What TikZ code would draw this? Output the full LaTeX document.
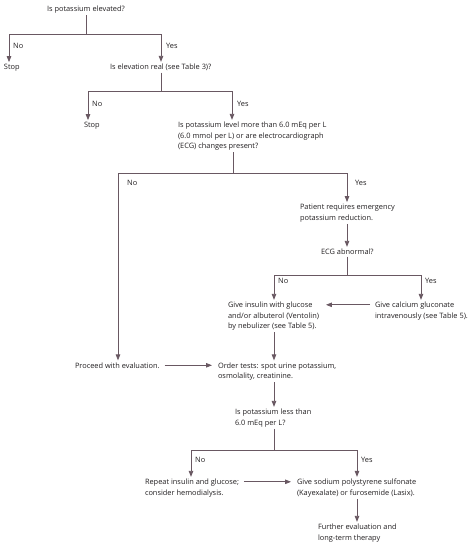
\documentclass[tikz,border=0pt]{standalone}
\usepackage{fontspec}
\setmainfont{Open Sans}
\usetikzlibrary{arrows.meta,calc}
\definecolor{linec}{RGB}{105,88,98}
\definecolor{txtc}{RGB}{35,32,34}
\begin{document}
\begin{tikzpicture}[x=1pt,y=-1pt,
  txt/.style={font=\fontsize{7.4}{10.5}\selectfont, text=txtc, inner sep=0pt, outer sep=2pt, align=left, anchor=base west},
  lbl/.style={font=\fontsize{7.4}{10.5}\selectfont, text=txtc, inner sep=0pt, anchor=base west},
  ln/.style={draw=linec, line width=0.8pt},
  arr/.style={ln, -{Triangle[length=6pt,width=4.5pt]}},
  biarr/.style={ln, {Triangle[length=6pt,width=4.5pt]}-{Triangle[length=6pt,width=4.5pt]}}]
\fill[white] (0,0) rectangle (474,546);
\useasboundingbox (0,0) rectangle (474,546);

% text nodes (base = baseline of the last line)
\node[txt] (q1) at (45,11.5) {Is potassium elevated?};
\node[txt] (stop1) at (2,69.5) {Stop};
\node[txt] (q2) at (108,69.5) {Is elevation real (see Table 3)?};
\node[txt] (stop2) at (82,127.5) {Stop};
\node[txt] (q3) at (176,148.5) {Is potassium level more than 6.0 mEq per L\\(6.0 mmol per L) or are electrocardiograph\\(ECG) changes present?};
\node[txt] (patient) at (298,220) {Patient requires emergency\\potassium reduction.};
\node[txt] (ecg) at (319,254.5) {ECG abnormal?};
\node[txt] (insulin) at (226,328.5) {Give insulin with glucose\\and/or albuterol (Ventolin)\\by nebulizer (see Table 5).};
\node[txt] (calcium) at (373,318) {Give calcium gluconate\\intravenously (see Table 5).};
\node[txt] (proceed) at (73,368) {Proceed with evaluation.};
\node[txt] (order) at (216,378.5) {Order tests: spot urine potassium,\\osmolality, creatinine.};
\node[txt] (q4) at (233,425) {Is potassium less than\\6.0 mEq per L?};
\node[txt] (repeat) at (143,495) {Repeat insulin and glucose;\\consider hemodialysis.};
\node[txt] (sodium) at (295,495) {Give sodium polystyrene sulfonate\\(Kayexalate) or furosemide (Lasix).};
\node[txt] (further) at (316,540) {Further evaluation and\\long-term therapy};

% branch labels
\node[lbl] (n1) at (13,48.5) {No};
\node[lbl] (y1) at (166,48.5) {Yes};
\node[lbl] (n2) at (92,106.5) {No};
\node[lbl] (y2) at (237,106.5) {Yes};
\node[lbl] (n3) at (127,185.5) {No};
\node[lbl] (y3) at (355,185.5) {Yes};
\node[lbl] (n4) at (278,283.5) {No};
\node[lbl] (y4) at (425,283.5) {Yes};
\node[lbl] (n5) at (195,462.5) {No};
\node[lbl] (y5) at (361,462.5) {Yes};

% junction coordinates
\coordinate (j1) at (86,34);  \coordinate (a1) at (9,34);   \coordinate (b1) at (161,34);
\coordinate (j2) at (161,91); \coordinate (a2) at (88,91);  \coordinate (b2) at (232,91);
\coordinate (j3) at (233,173);\coordinate (a3) at (118,173);\coordinate (b3) at (347,173);
\coordinate (j4) at (347,275);\coordinate (a4) at (274,275);\coordinate (b4) at (421,275);
\coordinate (j5) at (274,450);\coordinate (a5) at (191,450);\coordinate (b5) at (357,450);

% decision 1
\draw[ln] (j1 |- q1.south) -- (j1);
\draw[biarr] (a1 |- stop1.north) -- (a1) -- (b1) -- (b1 |- q2.north);
% decision 2
\draw[ln] (j2 |- q2.south) -- (j2);
\draw[biarr] (a2 |- stop2.north) -- (a2) -- (b2) -- (b2 |- q3.north);
% decision 3
\draw[ln] (j3 |- q3.south) -- (j3);
\draw[biarr] (a3 |- proceed.north) -- (a3) -- (b3) -- (b3 |- patient.north);
\draw[arr] (b3 |- patient.south) -- (b3 |- ecg.north);
% ECG decision
\draw[ln] (j4 |- ecg.south) -- (j4);
\draw[biarr] (a4 |- insulin.north) -- (a4) -- (b4) -- (b4 |- calcium.north);
\draw[arr] ($(calcium.base west)+(-3,-13.2)$) -- ($(insulin.east |- calcium.base west)+(5,-13.2)$);
\draw[arr] (a4 |- insulin.south) -- (a4 |- order.north);
\draw[arr] ($(proceed.base east)+(3,-2.7)$) -- ($(order.west |- proceed.base)+(-4,-2.7)$);
\draw[arr] (a4 |- order.south) -- (a4 |- q4.north);
% decision 4
\draw[ln] (j5 |- q4.south) -- (j5);
\draw[biarr] (a5 |- repeat.north) -- (a5) -- (b5) -- (b5 |- sodium.north);
\draw[arr] ($(repeat.base east)+(3,-13.2)$) -- ($(sodium.base west)+(-4,-13.2)$);
\draw[arr] (b5 |- sodium.south) -- (b5 |- further.north);
\end{tikzpicture}
\end{document}
